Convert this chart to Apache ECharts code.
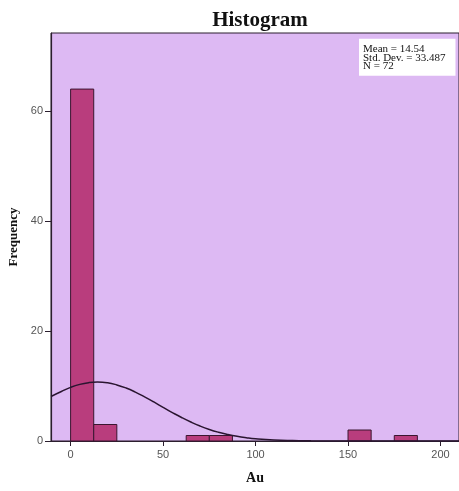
<!DOCTYPE html>
<html><head><meta charset="utf-8">
<script src="https://cdn.jsdelivr.net/npm/echarts@6/dist/echarts.min.js"></script>
<style>html,body{margin:0;padding:0;background:#fff}#c{width:459px;height:491px}</style>
</head><body><div id="c"></div>
<script>
// Histogram bins (Au)
var binStart = [0, 12.5, 62.5, 75, 150, 175];
var binEnd   = [12.5, 25, 75, 87.5, 162.5, 187.5];
var counts   = [64, 3, 1, 1, 2, 1];
// Normal curve points
var curveX = [-10.6, -5, 0, 5, 10, 14.5, 20, 25, 30, 35, 40, 45, 50, 55, 60, 65, 70, 75, 80, 85, 90, 95, 100, 110, 120, 130, 140, 150, 170, 190, 210];
var curveY = [8.1, 9.0, 9.76, 10.3, 10.62, 10.72, 10.58, 10.2, 9.64, 8.9, 8.03, 7.1, 6.12, 5.17, 4.27, 3.45, 2.72, 2.10, 1.59, 1.18, 0.85, 0.60, 0.41, 0.18, 0.075, 0.03, 0.01, 0.003, 0, 0, 0];
var xTicks = [0, 50, 100, 150, 200];
var yTicks = [0, 20, 40, 60];
var statsLines = ['Mean = 14.54', 'Std. Dev. = 33.487', 'N = 72'];

var barData = binStart.map(function(s, i){ return [s, binEnd[i], counts[i]]; });
var lineData = curveX.map(function(x, i){ return [x, curveY[i]]; });

var chart = echarts.init(document.getElementById('c'));
chart.setOption({
  animation: false,
  title: [{
    text: 'Histogram', left: 255, top: 5, textAlign: 'center',
    textStyle: {fontFamily: 'Liberation Serif', fontWeight: 'bold', fontSize: 21, color: '#111'}
  }, {
    text: statsLines.join('\n'), left: 359, top: 40,
    backgroundColor: '#fff', padding: [5, 10, 4, 4],
    textStyle: {fontFamily: 'Liberation Serif', fontWeight: 'normal', fontSize: 11, lineHeight: 8.5, color: '#111'}
  }],
  grid: {left: 51, right: 0, top: 33, bottom: 50, outerBoundsMode: 'none', containLabel: false,
    show: true, backgroundColor: '#DDB9F3', borderColor: '#2b1e2e', borderWidth: 1},
  xAxis: {
    type: 'value', min: -10.6, max: 210,
    name: 'Au', nameLocation: 'middle', nameGap: 30,
    nameTextStyle: {fontFamily: 'Liberation Serif', fontWeight: 'bold', fontSize: 14, color: '#111'},
    axisLine: {show: true, onZero: false, lineStyle: {color: '#2b1e2e', width: 1.2}},
    axisTick: {show: true, customValues: xTicks, length: 5, lineStyle: {color: '#2b1e2e'}},
    axisLabel: {customValues: xTicks, fontFamily: 'Liberation Sans', fontSize: 11, color: '#555', margin: 8},
    splitLine: {show: false}
  },
  yAxis: {
    type: 'value', min: 0, max: 74.2,
    name: 'Frequency', nameLocation: 'middle', nameGap: 30,
    nameTextStyle: {fontFamily: 'Liberation Serif', fontWeight: 'bold', fontSize: 13, color: '#111'},
    axisLine: {show: true, onZero: false, lineStyle: {color: '#2b1e2e', width: 1.2}},
    axisTick: {show: true, customValues: yTicks, length: 6, lineStyle: {color: '#2b1e2e'}},
    axisLabel: {customValues: yTicks, fontFamily: 'Liberation Sans', fontSize: 11, color: '#555', margin: 8},
    splitLine: {show: false}
  },
  series: [{
    type: 'custom',
    data: barData,
    renderItem: function(params, api){
      var p0 = api.coord([api.value(0), api.value(2)]);
      var p1 = api.coord([api.value(1), 0]);
      return {type: 'rect', shape: {x: p0[0], y: p0[1], width: p1[0]-p0[0], height: p1[1]-p0[1]},
        style: {fill: '#B93D7D', stroke: '#3a1630', lineWidth: 1}};
    },
    z: 2
  }, {
    type: 'line', data: lineData, smooth: true, showSymbol: false,
    lineStyle: {color: '#2a1530', width: 1.5}, z: 3
  }]
});
</script></body></html>
